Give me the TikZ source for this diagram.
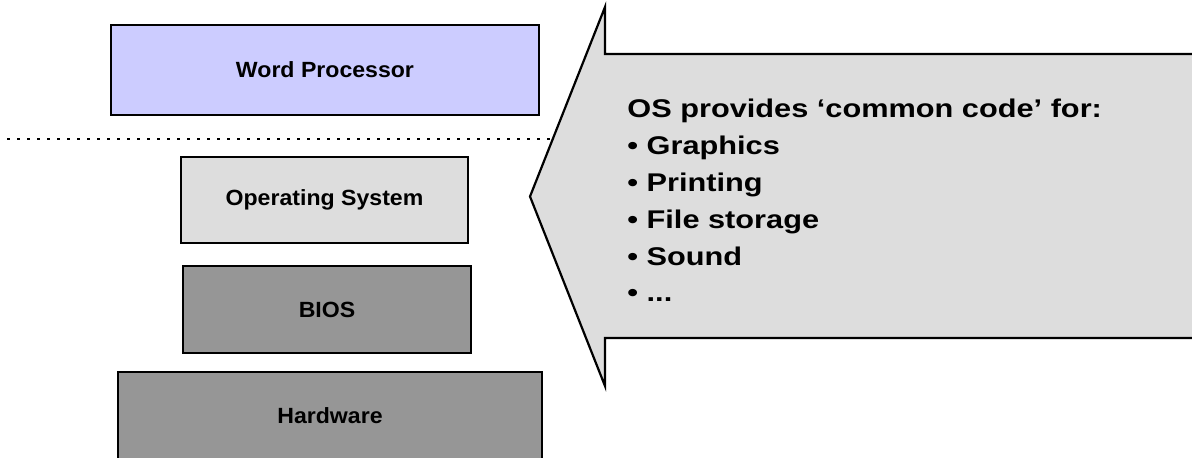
\documentclass[tikz,border=0pt]{standalone}
\usepackage{fontspec}
\setmainfont{Liberation Sans}
\newfontfamily\boxfont[FakeStretch=1.05]{Liberation Sans}
\newfontfamily\arrowfont[FakeStretch=1.2]{Liberation Sans}
\definecolor{wpfill}{HTML}{CCCCFF}
\definecolor{lightfill}{HTML}{DDDDDD}
\definecolor{darkfill}{HTML}{969696}
\tikzset{
  layerbox/.style={draw=black, line width=1pt, inner sep=0pt,
    font=\boxfont\bfseries\fontsize{11}{13}\selectfont},
  bigarrow/.style={draw=black, fill=lightfill, line width=1.1pt, line join=miter},
  separator/.style={line width=1.35pt, dash pattern=on 1.35pt off 3.65pt, line cap=butt},
  listtext/.style={inner sep=0pt, align=left, anchor=north west,
    font=\arrowfont\bfseries\fontsize{12.8}{18.4}\selectfont}
}
\begin{document}
\begin{tikzpicture}[x=0.5pt, y=-0.5pt]
\useasboundingbox (0,0) rectangle (1192,457);
\clip (0,0) rectangle (1192,457);
% dotted separator
\coordinate (dl) at (7,139);
\coordinate (dr) at (560,139);
\draw[separator] (dl) -- (dr);
% layer boxes
\node[layerbox, fill=wpfill, minimum width=214pt, minimum height=45pt] (wp) at (325,70) {Word Processor};
\node[layerbox, fill=lightfill, minimum width=143.5pt, minimum height=43pt] (os) at (324.5,200) {Operating System};
\node[layerbox, fill=darkfill, minimum width=144pt, minimum height=43.5pt] (bios) at (327,309.5) {BIOS};
\node[layerbox, fill=darkfill, minimum width=212pt, minimum height=44pt] (hw) at (330,416) {Hardware};
% big left-pointing arrow
\draw[bigarrow] (1210,54) -- (605,54) -- (605,7) -- (530,196.5) -- (605,386) -- (605,338) -- (1210,338) -- cycle;
\node[listtext] (list) at (627,99) {OS provides ‘common code’ for:\\
• Graphics\\
• Printing\\
• File storage\\
• Sound\\
• ...};
\end{tikzpicture}
\end{document}
